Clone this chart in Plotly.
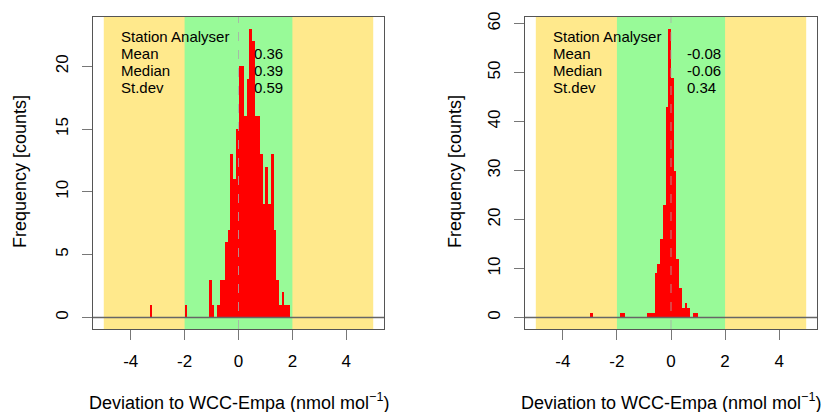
import plotly.graph_objects as go

# ---------------- data ----------------
bin_width = 0.1
left_bin_starts = [-3.3, -2.0, -1.1, -1.0, -0.9, -0.8, -0.7, -0.6, -0.5, -0.4, -0.3, -0.2, -0.1,
                   0.0, 0.1, 0.2, 0.3, 0.4, 0.5, 0.6, 0.7, 0.8, 0.9, 1.0, 1.1, 1.2, 1.3, 1.4,
                   1.5, 1.6, 1.7, 1.8]
left_counts = [1, 1, 3, 1, 0, 1, 3, 3, 6, 7, 13, 11, 15,
               20, 20, 16, 19, 23, 22, 16, 16, 13, 9, 12, 9, 13, 7, 3,
               1, 2, 1, 1]

right_bin_starts = [-3.0, -1.9, -1.8, -0.9, -0.8, -0.7, -0.6, -0.5, -0.4, -0.3, -0.2, -0.1,
                    0.0, 0.1, 0.2, 0.3, 0.4, 0.5, 0.6, 0.7, 0.8, 0.9]
right_counts = [1, 1, 1, 1, 1, 1, 9, 11, 16, 23, 43, 59,
                49, 30, 12, 6, 2, 3, 2, 0, 1, 1]

stat_labels = ["Station Analyser", "Mean", "Median", "St.dev"]
left_stats = ["", "0.36", "0.39", "0.59"]
right_stats = ["", "-0.08", "-0.06", "0.34"]

x_ticks = [-4, -2, 0, 2, 4]
x_tick_text = ["-4", "-2", "0", "2", "4"]
left_y_ticks = [0, 5, 10, 15, 20]
right_y_ticks = [0, 10, 20, 30, 40, 50, 60]

green_band = (-2, 2)
yellow_band = (-5, 5)

# ---------------- figure ----------------
W, H = 821, 412
ml, mr, mt, mb = 93, 4, 17, 83
pw = W - ml - mr
ph = H - mt - mb
left_dom = [0, (384 - 93) / pw]
right_dom = [(525 - 93) / pw, 1]

FONT = "Liberation Sans, Arial, sans-serif"
fig = go.Figure()

fig.add_trace(go.Bar(x=left_bin_starts, y=left_counts, width=bin_width, offset=0,
                     marker=dict(color="#FF0000", line=dict(width=0)),
                     xaxis="x", yaxis="y", showlegend=False))
fig.add_trace(go.Bar(x=right_bin_starts, y=right_counts, width=bin_width, offset=0,
                     marker=dict(color="#FF0000", line=dict(width=0)),
                     xaxis="x2", yaxis="y2", showlegend=False))

axcol = "#555555"
common_x = dict(range=[-5.4, 5.4], tickvals=x_ticks, ticktext=x_tick_text, ticks="outside", ticklen=10,
                tickcolor="#777777", showgrid=False, zeroline=False, showline=True,
                mirror=True, linecolor=axcol, linewidth=1,
                tickfont=dict(family=FONT, size=17, color="#000"), ticklabelstandoff=7)
common_y = dict(ticks="outside", ticklen=10, tickcolor="#777777", showgrid=False,
                zeroline=False, showline=True, mirror=True, linecolor=axcol, linewidth=1,
                tickangle=-90, tickfont=dict(family=FONT, size=17, color="#000"),
                ticklabelstandoff=7)

fig.update_layout(
    width=W, height=H,
    margin=dict(l=ml, r=mr, t=mt, b=mb),
    paper_bgcolor="white", plot_bgcolor="white",
    bargap=0,
    xaxis=dict(domain=left_dom, anchor="y", **common_x),
    yaxis=dict(domain=[0, 1], anchor="x", range=[-0.92, 23.92], tickvals=left_y_ticks, **common_y),
    xaxis2=dict(domain=right_dom, anchor="y2", **common_x),
    yaxis2=dict(domain=[0, 1], anchor="x2", range=[-2.36, 61.36], tickvals=right_y_ticks, **common_y),
)

shapes = []
for xa, ya in (("x", "y"), ("x2", "y2")):
    shapes.append(dict(type="rect", xref=xa, yref=ya + " domain", x0=yellow_band[0], x1=yellow_band[1],
                       y0=0, y1=1, fillcolor="#FFE98C", line=dict(width=0), layer="below"))
    shapes.append(dict(type="rect", xref=xa, yref=ya + " domain", x0=green_band[0], x1=green_band[1],
                       y0=0, y1=1, fillcolor="#98FA98", line=dict(width=0), layer="below"))
    shapes.append(dict(type="line", xref=xa + " domain", yref=ya, x0=0, x1=1, y0=0, y1=0,
                       line=dict(color="#666666", width=1.5), layer="above"))
    shapes.append(dict(type="line", xref=xa, yref=ya + " domain", x0=0, x1=0, y0=0, y1=1,
                       line=dict(color="rgba(170,170,170,0.8)", width=1, dash="dash"), layer="above"))
fig.update_layout(shapes=shapes)

ann = []
row_y = [1 - 19 / ph, 1 - 36 / ph, 1 - 53 / ph, 1 - 70 / ph]
for xa, ya, vals in (("x", "y", left_stats), ("x2", "y2", right_stats)):
    for lab, v, yy in zip(stat_labels, vals, row_y):
        ann.append(dict(x=-4.45, y=yy, xref=xa, yref=ya + " domain", text=lab, showarrow=False,
                        xanchor="left", yanchor="middle", font=dict(family=FONT, size=15, color="#000")))
        if v:
            ann.append(dict(x=0.5, y=yy, xref=xa, yref=ya + " domain", text=v, showarrow=False,
                            xanchor="left", yanchor="middle", font=dict(family=FONT, size=15, color="#000")))
    # axis titles
    ann.append(dict(x=0.5, y=(329 - 401) / ph, xref=xa + " domain", yref="paper",
                    text="Deviation to WCC-Empa (nmol mol<sup>−1</sup>)", showarrow=False,
                    xanchor="center", yanchor="middle", font=dict(family=FONT, size=18, color="#000")))

for xc in (20, 455):
    ann.append(dict(x=(xc - ml) / pw, y=(329 - 172) / ph, xref="paper", yref="paper",
                    text="Frequency [counts]", textangle=-90, showarrow=False,
                    xanchor="center", yanchor="middle",
                    font=dict(family=FONT, size=18, color="#000")))
fig.update_layout(annotations=ann)

fig.write_html("out.html")
